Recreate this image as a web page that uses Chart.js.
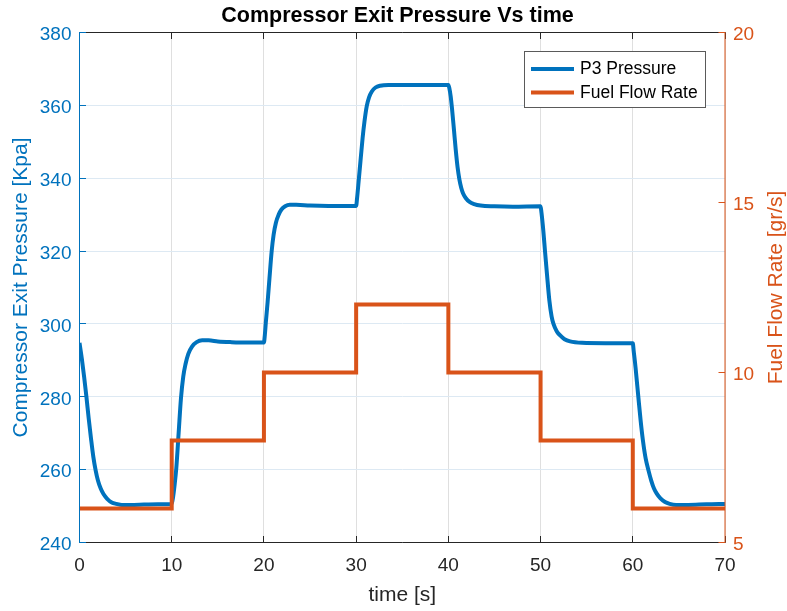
<!DOCTYPE html>
<html>
<head>
<meta charset="utf-8">
<title>Compressor Exit Pressure Vs time</title>
<script src="https://cdn.jsdelivr.net/npm/chart.js@4.4.1/dist/chart.umd.min.js"></script>
<style>
  html, body { margin: 0; padding: 0; background: #ffffff; }
  #wrap { width: 787px; height: 611px; }
</style>
</head>
<body>
<div id="wrap"><canvas id="chart" width="787" height="611"></canvas></div>
<script>
// ---- data ----
const xTickValues = [0, 10, 20, 30, 40, 50, 60, 70];
const pressureTickValues = [240, 260, 280, 300, 320, 340, 360, 380];
const fuelTickValues = [5, 10, 15, 20];

// fuel flow set-point [gr/s], held from each time until the next one
const stepTimes = [0, 10, 20, 30, 40, 50, 60, 70];
const fuelFlow  = [6, 8, 10, 12, 10, 8, 6, 6];

// compressor exit pressure P3 [kPa]
const pressureTime = [
  0, 0.25, 0.5, 0.75, 1.0, 1.25, 1.5, 1.75, 2.0, 2.3, 2.6, 3.0, 3.5, 4.0, 4.6, 5.5, 7, 8.5,
  10.0, 10.15, 10.3, 10.5, 10.75, 11.0, 11.25, 11.5, 11.8, 12.2, 12.7, 13.3, 14.0, 15.0, 16.5, 18,
  20.0, 20.1, 20.2, 20.4, 20.6, 20.84, 21.05, 21.3, 21.6, 21.9, 22.3, 22.8, 23.5, 25, 27,
  30.0, 30.1, 30.3, 30.5, 30.7, 30.9, 31.15, 31.4, 31.7, 32.1, 32.6, 33.5, 36,
  40.0, 40.1, 40.25, 40.4, 40.6, 40.8, 41.0, 41.2, 41.4, 41.6, 41.9, 42.3, 42.8, 43.5, 45, 47,
  50.0, 50.1, 50.3, 50.48, 50.7, 50.95, 51.2, 51.4, 51.75, 52.1, 52.6, 53.2, 54.5, 57,
  60.0, 60.1, 60.3, 60.6, 60.85, 61.1, 61.4, 61.7, 62.0, 62.3, 62.6, 63.0, 63.5, 64.0, 64.7, 66, 68, 70
];
const pressureKpa = [
  294.8, 290.5, 285.5, 280, 274, 268.5, 263.5, 259.8, 257, 254.8, 253.3, 252, 251, 250.6, 250.3, 250.3, 250.4, 250.5,
  250.6, 252.5, 255.5, 260.5, 270, 279.5, 285.5, 289, 291.8, 293.8, 295, 295.5, 295.5, 295.2, 295, 294.9,
  294.9, 297, 300.2, 306, 312.5, 320, 324.5, 327.8, 330, 331.4, 332.3, 332.7, 332.7, 332.5, 332.4,
  332.4, 334.5, 340, 345.5, 351, 355.5, 359.8, 362.2, 363.8, 364.9, 365.4, 365.6, 365.6,
  365.6, 364.8, 362.5, 359, 353.5, 347.8, 343, 339.6, 337.3, 335.8, 334.5, 333.5, 332.9, 332.5, 332.3, 332.2,
  332.3, 330.5, 325.5, 320, 313.5, 306.5, 302, 300, 298, 296.9, 295.8, 295.2, 294.8, 294.7,
  294.7, 292.5, 288, 280, 273.5, 268, 263, 259.8, 257, 254.8, 253.4, 252.1, 251.1, 250.6, 250.3, 250.3, 250.5, 250.6
];

// ---- styling ----
const BLUE = '#0072BD';
const ORANGE = '#D95319';
const INK = '#262626';
const FONT = '"Liberation Sans", Arial, Helvetica, sans-serif';

const pressurePoints = pressureTime.map((t, i) => ({ x: t, y: pressureKpa[i] }));
const fuelPoints = stepTimes.map((t, i) => ({ x: t, y: fuelFlow[i] }));

// Axes box with inward tick marks, right-hand axis label and the legend box
const framePlugin = {
  id: 'frame',
  afterDatasetsDraw(chart) {
    const { ctx, chartArea: a, scales } = chart;
    const { x, y, y1 } = scales;
    const crisp = v => Math.round(v - 0.5) + 0.5;
    const TICK = 6.5;
    ctx.save();
    ctx.lineWidth = 1;

    ctx.strokeStyle = INK;
    ctx.beginPath();
    ctx.moveTo(a.left - 0.5, a.top); ctx.lineTo(a.right + 0.5, a.top);
    ctx.moveTo(a.left - 0.5, a.bottom); ctx.lineTo(a.right + 0.5, a.bottom);
    x.ticks.forEach(t => {
      const px = crisp(x.getPixelForValue(t.value));
      ctx.moveTo(px, a.bottom); ctx.lineTo(px, a.bottom - TICK);
      ctx.moveTo(px, a.top); ctx.lineTo(px, a.top + TICK);
    });
    ctx.stroke();

    ctx.strokeStyle = BLUE;
    ctx.beginPath();
    ctx.moveTo(a.left, a.top - 0.5); ctx.lineTo(a.left, a.bottom + 0.5);
    y.ticks.forEach(t => {
      const py = crisp(y.getPixelForValue(t.value));
      ctx.moveTo(a.left, py); ctx.lineTo(a.left + TICK, py);
    });
    ctx.stroke();

    ctx.strokeStyle = ORANGE;
    ctx.beginPath();
    ctx.moveTo(a.right, a.top - 0.5); ctx.lineTo(a.right, a.bottom + 0.5);
    y1.ticks.forEach(t => {
      const py = crisp(y1.getPixelForValue(t.value));
      ctx.moveTo(a.right, py); ctx.lineTo(a.right - TICK, py);
    });
    ctx.stroke();

    // right axis label, reading bottom to top
    ctx.translate(776, (a.top + a.bottom) / 2);
    ctx.rotate(-Math.PI / 2);
    ctx.fillStyle = ORANGE;
    ctx.font = '21px ' + FONT;
    ctx.textAlign = 'center';
    ctx.textBaseline = 'middle';
    ctx.fillText(y1.options.title.text, 0, 0);
    ctx.restore();
  },
  afterDraw(chart) {
    const { ctx } = chart;
    const box = { x: 524.5, y: 51.5, w: 181, h: 56 };
    const rows = [69, 92.5];
    ctx.save();
    ctx.fillStyle = '#ffffff';
    ctx.fillRect(box.x, box.y, box.w, box.h);
    ctx.strokeStyle = '#5a5a5a';
    ctx.lineWidth = 1;
    ctx.strokeRect(box.x, box.y, box.w, box.h);
    ctx.font = '17.5px ' + FONT;
    ctx.textBaseline = 'middle';
    ctx.textAlign = 'left';
    chart.data.datasets.forEach((ds, i) => {
      const ry = rows[i];
      ctx.strokeStyle = ds.borderColor;
      ctx.lineWidth = 4;
      ctx.beginPath();
      ctx.moveTo(531, ry); ctx.lineTo(574, ry);
      ctx.stroke();
      ctx.fillStyle = '#000000';
      ctx.fillText(ds.label, 580, ry + 0.5);
    });
    ctx.restore();
  }
};

new Chart(document.getElementById('chart'), {
  type: 'line',
  data: {
    datasets: [
      {
        label: 'P3 Pressure',
        data: pressurePoints,
        yAxisID: 'y',
        borderColor: BLUE,
        backgroundColor: BLUE,
        borderWidth: 4,
        pointRadius: 0,
        cubicInterpolationMode: 'monotone',
        order: 2
      },
      {
        label: 'Fuel Flow Rate',
        data: fuelPoints,
        yAxisID: 'y1',
        borderColor: ORANGE,
        backgroundColor: ORANGE,
        borderWidth: 4,
        pointRadius: 0,
        stepped: 'before',
        borderJoinStyle: 'miter',
        order: 1
      }
    ]
  },
  options: {
    responsive: false,
    animation: false,
    devicePixelRatio: 1,
    parsing: false,
    layout: { padding: { left: 8, right: 0, top: 0, bottom: 0 } },
    plugins: {
      legend: { display: false },
      tooltip: { enabled: false },
      title: {
        display: true,
        text: 'Compressor Exit Pressure Vs time',
        color: '#000000',
        font: { family: FONT, size: 21.5, weight: 'bold', lineHeight: 1.2 },
        padding: { top: 3.5, bottom: 3.2 }
      }
    },
    scales: {
      x: {
        type: 'linear',
        min: 0,
        max: 70,
        afterBuildTicks: s => { s.ticks = xTickValues.map(v => ({ value: v })); },
        afterFit: s => { s.height = 68.5; },
        grid: { color: '#dfdfdf', lineWidth: 1, drawTicks: false },
        border: { display: false },
        ticks: { color: INK, padding: 12, font: { family: FONT, size: 19 }, maxRotation: 0 },
        title: { display: true, text: 'time [s]', color: INK, font: { family: FONT, size: 21 }, padding: { top: 0, bottom: 3 } }
      },
      y: {
        type: 'linear',
        position: 'left',
        min: 240,
        max: 380,
        afterBuildTicks: s => { s.ticks = pressureTickValues.map(v => ({ value: v })); },
        afterFit: s => { s.width = 71.5; },
        grid: { color: '#dde9f3', lineWidth: 1, drawTicks: false },
        border: { display: false },
        ticks: { color: BLUE, padding: 8, labelOffset: 2.5, font: { family: FONT, size: 19 } },
        title: { display: true, text: 'Compressor Exit Pressure [Kpa]', color: BLUE, font: { family: FONT, size: 21 }, padding: { top: 0.5 } }
      },
      y1: {
        type: 'linear',
        position: 'right',
        min: 5,
        max: 20,
        afterBuildTicks: s => { s.ticks = fuelTickValues.map(v => ({ value: v })); },
        afterFit: s => { s.width = 62; },
        grid: { drawOnChartArea: false, drawTicks: false },
        border: { display: false },
        ticks: { color: ORANGE, padding: 8, labelOffset: 2.5, font: { family: FONT, size: 19 } },
        title: { display: false, text: 'Fuel Flow Rate [gr/s]' }
      }
    }
  },
  plugins: [framePlugin]
});
</script>
</body>
</html>
